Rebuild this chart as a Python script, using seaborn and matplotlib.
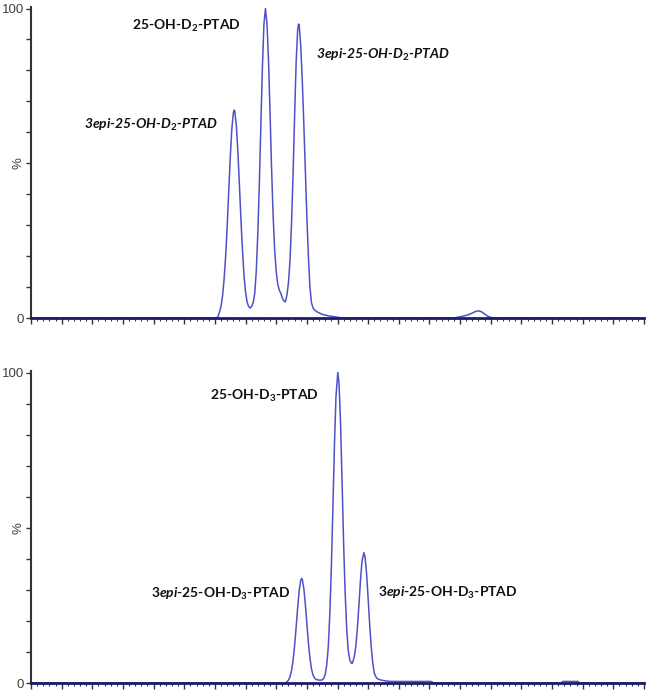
import matplotlib
matplotlib.use("Agg")
import matplotlib.pyplot as plt
import seaborn as sns
import pandas as pd
from matplotlib.ticker import MultipleLocator

# ---------------- data ----------------
top_time = [0.0, 6.05, 6.10, 6.15, 6.20, 6.25, 6.30, 6.35, 6.40, 6.45, 6.50, 6.55, 6.60, 6.63, 6.65,
            6.70, 6.75, 6.80, 6.85, 6.90, 6.95, 7.00, 7.05, 7.10, 7.15, 7.20, 7.25, 7.30, 7.35,
            7.40, 7.45, 7.50, 7.55, 7.60, 7.65, 7.70, 7.75, 7.80, 7.85, 7.90, 7.95, 8.00, 8.05,
            8.10, 8.15, 8.20, 8.25, 8.30, 8.35, 8.40, 8.45, 8.50, 8.55, 8.60, 8.65, 8.70, 8.73,
            8.75, 8.80, 8.85, 8.90, 8.95, 9.00, 9.05, 9.10, 9.15, 9.20, 9.25, 9.35, 9.50, 9.70,
            9.90, 10.15, 13.80, 13.95, 14.10, 14.25, 14.40, 14.50, 14.60, 14.70, 14.80, 14.90,
            15.00, 15.10, 20.0]
top_intensity = [0, 0, 0.5, 1.9, 3.8, 7.2, 12.5, 19.9, 29.5, 40.7, 51.7, 60.8, 66.1, 67.2, 66.8,
                 62.1, 53.6, 43.0, 31.8, 21.8, 13.7, 8.4, 5.2, 3.7, 3.2, 3.8, 5.0, 8.0, 15.2,
                 27.3, 43.5, 62.5, 81.0, 95.0, 100.0, 95.0, 83.0, 66.0, 48.0, 33.0, 22.0, 15.0, 11.0,
                 9.0, 8.0, 6.5, 5.5, 5.2, 7.4, 11.4, 18.5, 30.5, 46.3, 65.2, 82.5, 93.1, 95.0,
                 94.7, 88.0, 77.0, 63.0, 48.0, 33.0, 20.0, 10.0, 5.0, 3.3, 2.6, 1.9, 1.2, 0.7,
                 0.4, 0, 0, 0.3, 0.6, 1.0, 1.6, 2.1, 2.3, 2.0, 1.3, 0.6,
                 0.2, 0, 0]

bottom_time = [0.0, 8.30, 8.35, 8.40, 8.45, 8.50, 8.55, 8.60, 8.65, 8.70, 8.75, 8.80, 8.83, 8.85,
               8.90, 8.95, 9.00, 9.05, 9.10, 9.15, 9.20, 9.25, 9.30, 9.35, 9.43, 9.50, 9.55, 9.60,
               9.65, 9.70, 9.75, 9.80, 9.85, 9.90, 9.95, 10.01, 10.05, 10.10, 10.15, 10.20, 10.25,
               10.30, 10.35, 10.40, 10.45, 10.48, 10.50, 10.55, 10.60, 10.65, 10.70, 10.75, 10.80,
               10.86, 10.90, 10.95, 11.00, 11.05, 11.10, 11.15, 11.20, 11.25, 11.30, 11.40, 11.55,
               11.75, 11.90, 13.05, 13.15, 17.30, 17.35, 17.85, 17.90, 20.0]
bottom_intensity = [0, 0, 0.4, 0.9, 2.0, 4.0, 7.3, 12.0, 17.9, 24.3, 29.7, 33.1, 33.7, 33.4,
                    30.6, 25.4, 19.2, 13.0, 8.1, 4.6, 2.6, 1.6, 1.2, 1.0, 0.9, 1.0, 1.5, 2.8,
                    5.9, 11.8, 22.3, 37.5, 56.5, 76.5, 92.3, 100.0, 96.5, 83.5, 64.7, 44.7, 29.0,
                    17.5, 10.5, 7.5, 6.4, 6.3, 6.8, 8.5, 12.0, 17.8, 25.2, 33.1, 39.3,
                    42.0, 40.5, 35.1, 27.2, 18.8, 11.7, 6.5, 3.2, 2.0, 1.4, 1.0, 0.7,
                    0.5, 0.5, 0.5, 0, 0, 0.5, 0.5, 0, 0]

top_labels = [r"25-OH-D$_2$-PTAD",
              r"3epi-25-OH-D$_\mathit{2}$-PTAD",
              r"3epi-25-OH-D$_\mathit{2}$-PTAD"]
top_label_pos = [(5.08, 94.5), (3.92, 62.4), (11.47, 85.1)]
top_label_style = ["normal", "italic", "italic"]

bottom_labels = [r"25-OH-D$_3$-PTAD",
                 r"3$\mathit{epi}$-25-OH-D$_3$-PTAD",
                 r"3$\mathit{epi}$-25-OH-D$_3$-PTAD"]
bottom_label_pos = [(7.61, 92.6), (6.19, 28.75), (13.6, 29.1)]
bottom_label_style = ["normal", "normal", "normal"]

ytick_values = list(range(0, 101, 10))
ytick_labels = ["0", "", "", "", "", "%", "", "", "", "", "100"]

# ---------------- style ----------------
sns.set_theme(style="ticks")
plt.rcParams["font.family"] = ["Lato", "DejaVu Sans"]
plt.rcParams["mathtext.fontset"] = "custom"
plt.rcParams["mathtext.rm"] = "Lato:bold"
plt.rcParams["mathtext.it"] = "Lato:italic:bold"
plt.rcParams["mathtext.bf"] = "Lato:bold"

TRACE = "#5050c8"
BASE = "#1c1c6a"
AXC = "#333333"

fig = plt.figure(figsize=(6.49, 6.92), dpi=100)
ax_top = fig.add_axes([31 / 649, 1 - 318 / 692, 613 / 649, 311 / 692])
ax_bot = fig.add_axes([31 / 649, 1 - 683 / 692, 613 / 649, 312 / 692])

panels = [
    (ax_top, top_time, top_intensity, top_labels, top_label_pos, top_label_style),
    (ax_bot, bottom_time, bottom_intensity, bottom_labels, bottom_label_pos, bottom_label_style),
]

for ax, t, inten, labels, pos, styles in panels:
    df = pd.DataFrame({"time": t, "intensity": inten})
    sns.lineplot(data=df, x="time", y="intensity", ax=ax, color=TRACE, lw=1.1,
                 estimator=None, sort=False)
    for ln in ax.lines:
        ln.set_clip_on(False)
    ax.set_xlim(0, 20)
    ax.set_ylim(0, 100.5)
    ax.set_xlabel("")
    ax.set_ylabel("")
    for s in ["top", "right"]:
        ax.spines[s].set_visible(False)
    ax.spines["left"].set_color(AXC)
    ax.spines["left"].set_linewidth(1.5)
    ax.spines["bottom"].set_color(BASE)
    ax.spines["bottom"].set_linewidth(2.0)
    ax.spines["bottom"].set_zorder(3)

    ax.xaxis.set_major_locator(MultipleLocator(1))
    ax.xaxis.set_minor_locator(MultipleLocator(0.2))
    ax.tick_params(axis="x", which="major", direction="out", length=4.5, width=1.0,
                   color=AXC, labelbottom=False)
    ax.tick_params(axis="x", which="minor", direction="out", length=2.5, width=0.8,
                   color=AXC)

    ax.set_yticks(ytick_values)
    ax.set_yticklabels(ytick_labels, family=["Liberation Sans"], fontsize=9.5, color="#404040")
    ax.tick_params(axis="y", which="major", direction="out", length=3.5, width=1.0,
                   color=AXC, pad=1.5)
    ax.get_yticklabels()[5].set_rotation(90)
    ax.get_yticklabels()[5].set_va("center")

    for lab, (x, y), st in zip(labels, pos, styles):
        ax.text(x, y, lab, ha="center", va="center", fontsize=10, fontweight="bold",
                fontstyle=st, color="#111111")

fig.savefig("out.png", dpi=100)
